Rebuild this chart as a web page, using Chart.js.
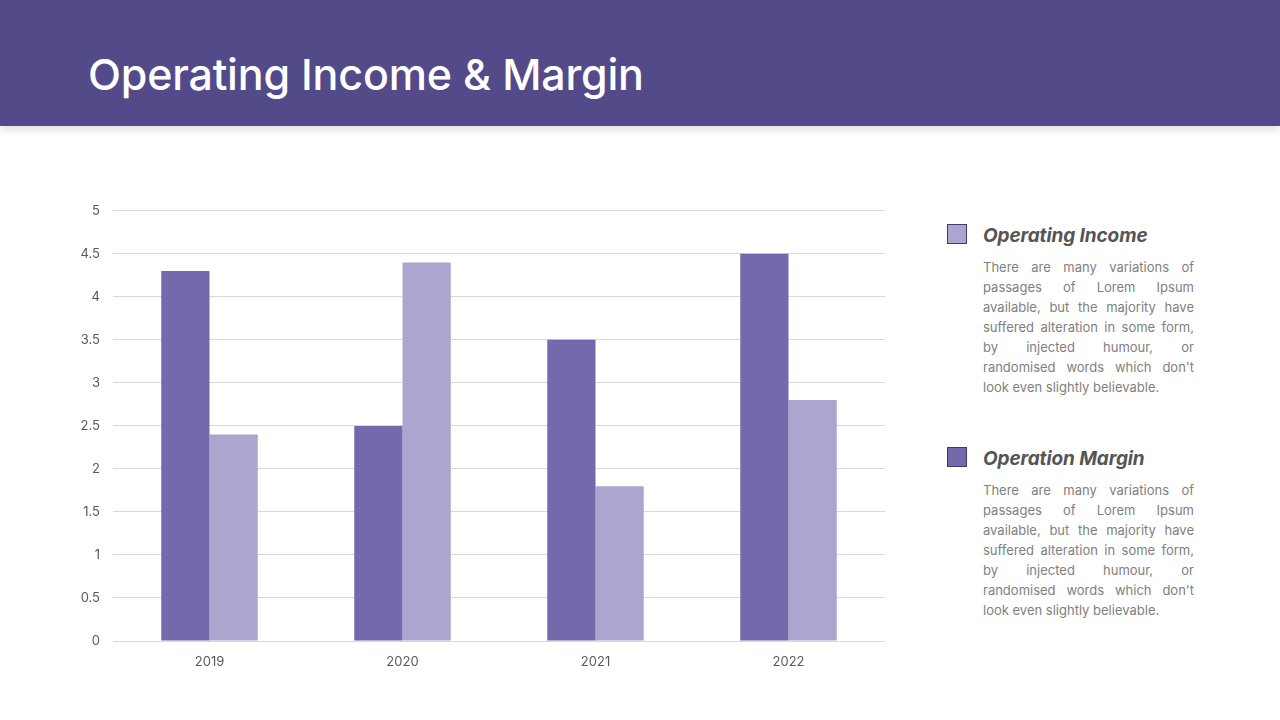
<!DOCTYPE html>
<html>
<head>
<meta charset="utf-8">
<script src="https://cdn.jsdelivr.net/npm/chart.js@4"></script>
<style>
  html, body { margin: 0; padding: 0; }
  body { width: 1280px; height: 720px; position: relative; background: #fff; font-family: Inter, "Noto Sans", sans-serif; overflow: hidden; }
  .header { position: absolute; left: 0; top: 0; width: 1280px; height: 126px; background: #524a89; box-shadow: 0 4px 8px rgba(0,0,0,0.12); }
  .header h1 { position: absolute; left: 88px; top: 48px; margin: 0; font-size: 43px; line-height: 52px; font-weight: 500; color: #fff; letter-spacing: -0.2px; }
  .chart-box { position: absolute; left: 70px; top: 190px; width: 815px; height: 490px; }
  .legend-item { position: absolute; left: 947px; width: 250px; }
  .swatch { position: absolute; left: 0; width: 18px; height: 18px; border: 1px solid #3f3a6b; }
  .legend-title { position: absolute; left: 36px; font-size: 19px; font-weight: 700; font-style: italic; color: #555; white-space: nowrap; letter-spacing: -0.1px; }
  .legend-text { position: absolute; left: 36px; width: 211px; font-size: 13px; line-height: 20px; color: #808080; text-align: justify; }
</style>
</head>
<body>
<div class="header"><h1>Operating Income &amp; Margin</h1></div>
<div class="chart-box"><canvas id="chart"></canvas></div>

<div class="legend-item" style="top:224px">
  <div class="swatch" id="sw1" style="top:0"></div>
  <div class="legend-title" style="top:0">Operating Income</div>
  <div class="legend-text" style="top:33px">There are many variations of passages of Lorem Ipsum available, but the majority have suffered alteration in some form, by injected humour, or randomised words which don't look even slightly believable.</div>
</div>
<div class="legend-item" style="top:447px">
  <div class="swatch" id="sw2" style="top:0"></div>
  <div class="legend-title" style="top:0">Operation Margin</div>
  <div class="legend-text" style="top:33px">There are many variations of passages of Lorem Ipsum available, but the majority have suffered alteration in some form, by injected humour, or randomised words which don't look even slightly believable.</div>
</div>

<script>
// 年ごとのカテゴリ
const years = ['2019', '2020', '2021', '2022'];
// 系列データ（濃い紫・薄い紫）
const darkValues = [4.3, 2.5, 3.5, 4.5];
const lightValues = [2.4, 4.4, 1.8, 2.8];
// 目盛りラベル
const yTicks = [0, 0.5, 1, 1.5, 2, 2.5, 3, 3.5, 4, 4.5, 5];

const darkColor = '#7469ad';
const lightColor = '#aca5cf';

document.getElementById('sw1').style.background = lightColor;
document.getElementById('sw2').style.background = darkColor;

const ctx = document.getElementById('chart').getContext('2d');
new Chart(ctx, {
  type: 'bar',
  data: {
    labels: years,
    datasets: [
      { label: 'Operation Margin', data: darkValues, backgroundColor: darkColor },
      { label: 'Operating Income', data: lightValues, backgroundColor: lightColor },
    ],
  },
  options: {
    responsive: true,
    maintainAspectRatio: false,
    animation: false,
    layout: { padding: { top: 0, right: 0, bottom: 0, left: 0 } },
    plugins: { legend: { display: false }, tooltip: { enabled: false } },
    datasets: { bar: { barPercentage: 1, categoryPercentage: 0.5 } },
    scales: {
      x: {
        grid: { display: false },
        border: { display: false },
        ticks: { color: '#595959', font: { family: 'Inter', size: 13 }, padding: 5 },
        afterFit: (scale) => { scale.height = 39; },
      },
      y: {
        min: 0,
        max: 5,
        afterBuildTicks: (scale) => { scale.ticks = yTicks.map(v => ({ value: v })); },
        grid: { color: '#d9d9d9', drawTicks: false },
        border: { display: false },
        ticks: {
          color: '#595959',
          font: { family: 'Inter', size: 13 },
          padding: 13,
          callback: (v) => String(v),
        },
        afterFit: (scale) => { scale.width = 43; },
      },
    },
  },
});
</script>
</body>
</html>
